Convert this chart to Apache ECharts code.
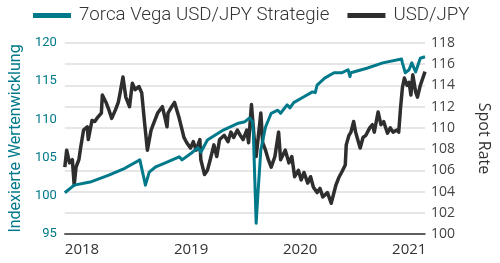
<!DOCTYPE html>
<html>
<head>
<meta charset="utf-8">
<script src="https://cdn.jsdelivr.net/npm/echarts@6/dist/echarts.min.js"></script>
<style>html,body{margin:0;padding:0;background:#fff;}#c{width:500px;height:263px;}</style>
</head>
<body>
<div id="c"></div>
<script>
// x positions as decimal years
const stratYears = [2018.000,2018.086,2018.232,2018.404,2018.550,2018.688,2018.739,2018.774,2018.834,2018.937,2019.049,2019.075,2019.161,2019.221,2019.247,2019.307,2019.453,2019.591,2019.651,2019.694,2019.720,2019.728,2019.754,2019.771,2019.797,2019.840,2019.892,2019.952,2019.978,2020.038,2020.064,2020.098,2020.184,2020.270,2020.296,2020.313,2020.382,2020.468,2020.537,2020.597,2020.614,2020.622,2020.769,2020.915,2021.087,2021.095,2021.121,2021.156,2021.181,2021.216,2021.259,2021.302];
const stratValues = [100.4,101.4,101.8,102.7,103.6,104.7,101.4,103.1,103.8,104.4,105.1,104.7,105.6,106.3,105.7,107.3,108.6,109.5,109.7,110.2,109.7,108.5,96.4,100.4,106.0,109.0,110.8,111.2,110.8,111.9,111.5,112.2,112.9,113.6,113.5,114.5,115.4,116.1,116.1,116.5,115.6,116.1,116.7,117.4,117.9,117.4,116.1,116.5,117.4,116.2,118.0,118.2];
const usdYears = [2018.000,2018.017,2018.043,2018.069,2018.086,2018.103,2018.129,2018.146,2018.172,2018.206,2018.215,2018.249,2018.275,2018.301,2018.335,2018.344,2018.378,2018.404,2018.430,2018.464,2018.490,2018.507,2018.533,2018.559,2018.593,2018.619,2018.645,2018.679,2018.705,2018.731,2018.757,2018.791,2018.817,2018.851,2018.894,2018.920,2018.937,2018.946,2018.980,2019.006,2019.049,2019.092,2019.118,2019.152,2019.178,2019.204,2019.238,2019.247,2019.281,2019.307,2019.333,2019.367,2019.393,2019.419,2019.462,2019.496,2019.522,2019.548,2019.582,2019.608,2019.634,2019.668,2019.685,2019.711,2019.737,2019.754,2019.771,2019.797,2019.814,2019.840,2019.866,2019.892,2019.926,2019.960,2019.978,2020.021,2020.055,2020.081,2020.107,2020.141,2020.167,2020.193,2020.227,2020.253,2020.279,2020.313,2020.339,2020.365,2020.408,2020.442,2020.485,2020.511,2020.537,2020.571,2020.580,2020.605,2020.623,2020.648,2020.666,2020.691,2020.708,2020.734,2020.760,2020.795,2020.820,2020.837,2020.872,2020.898,2020.923,2020.958,2020.984,2021.009,2021.044,2021.061,2021.078,2021.095,2021.113,2021.138,2021.156,2021.173,2021.190,2021.216,2021.233,2021.259,2021.276,2021.302];
const usdValues = [106.3,107.9,106.7,107.0,104.6,106.3,107.0,108.2,109.8,110.1,108.9,110.7,110.6,111.0,111.4,113.1,112.4,111.7,110.9,111.7,112.4,113.3,114.8,112.9,112.0,114.2,113.6,113.9,113.3,110.5,107.9,109.8,110.5,111.4,112.0,110.9,110.1,111.4,112.0,112.4,110.9,109.1,108.6,108.1,108.7,107.9,108.9,107.0,105.6,106.0,107.0,108.4,107.3,108.9,109.3,108.7,109.6,109.1,109.8,109.3,108.9,109.8,108.6,112.2,108.9,107.3,108.9,111.4,108.6,107.9,107.0,106.3,107.3,109.6,107.0,107.9,106.7,107.3,105.4,106.0,105.1,105.8,104.8,105.4,104.4,103.9,104.3,103.5,103.9,102.9,104.6,105.3,105.8,106.5,108.4,109.3,109.6,110.6,109.6,108.7,108.1,109.1,109.3,110.0,110.3,109.6,111.5,110.3,110.6,109.5,110.0,109.6,109.8,109.6,111.9,113.8,114.7,114.0,114.3,113.1,115.0,113.4,112.9,114.0,114.0,115.3];
const xTickLabels = ['2018','2019','2020','2021'];

const TEAL = '#00798a';
const DARK = '#2e2e2e';
const chart = echarts.init(document.getElementById('c'), null, {renderer:'canvas'});
chart.setOption({
  animation:false,
  backgroundColor:'#fff',
  legend:{
    top:1, left:28, itemWidth:38, itemHeight:5, itemGap:18, icon:'rect',
    textStyle:{fontFamily:'Roboto', fontWeight:300, fontSize:18.7, color:'#333', padding:[0,0,0,3]},
    data:['7orca Vega USD/JPY Strategie','USD/JPY']
  },
  grid:{left:53, right:63, top:43, bottom:29},
  xAxis:{
    type:'value', min:2018, max:2021.302, interval:1,
    axisLine:{show:true, lineStyle:{color:'#333', width:1.5}},
    axisTick:{show:false}, splitLine:{show:false},
    axisLabel:{
      fontFamily:'Open Sans', fontSize:15, color:'#333', align:'left', margin:8,
      showMinLabel:true, showMaxLabel:false, hideOverlap:false,
      formatter:function(v){ const i = Math.round(v) - 2018; return (Math.abs(v - Math.round(v)) < 1e-6 && xTickLabels[i]) ? xTickLabels[i] : ''; }
    }
  },
  yAxis:[{
    type:'value', min:95, max:120, interval:5, position:'left',
    name:'Indexierte Wertenwicklung', nameLocation:'middle', nameGap:37, nameRotate:90,
    nameTextStyle:{fontFamily:'Roboto', fontSize:16, color:TEAL},
    axisLine:{show:false}, axisTick:{show:false}, splitLine:{show:false},
    axisLabel:{fontFamily:'Roboto', fontSize:13, color:TEAL, margin:8}
  },{
    type:'value', min:100, max:118, interval:2, position:'right',
    name:'Spot Rate', nameLocation:'middle', nameGap:51, nameRotate:-90,
    nameTextStyle:{fontFamily:'Open Sans', fontSize:16, color:'#333'},
    axisLine:{show:false}, axisTick:{show:false},
    splitLine:{show:true, lineStyle:{color:'#dedede', width:1.5}},
    axisLabel:{fontFamily:'Open Sans', fontSize:14, color:'#444', margin:6}
  }],
  series:[{
    name:'USD/JPY', type:'line', yAxisIndex:1, showSymbol:false, z:2,
    itemStyle:{color:DARK}, lineStyle:{color:DARK, width:3.5, join:'round'},
    data: usdYears.map((t,i)=>[t, usdValues[i]])
  },{
    name:'7orca Vega USD/JPY Strategie', type:'line', yAxisIndex:0, showSymbol:false, z:3,
    itemStyle:{color:TEAL}, lineStyle:{color:TEAL, width:3, join:'round'},
    data: stratYears.map((t,i)=>[t, stratValues[i]])
  }]
});
</script>
</body>
</html>
